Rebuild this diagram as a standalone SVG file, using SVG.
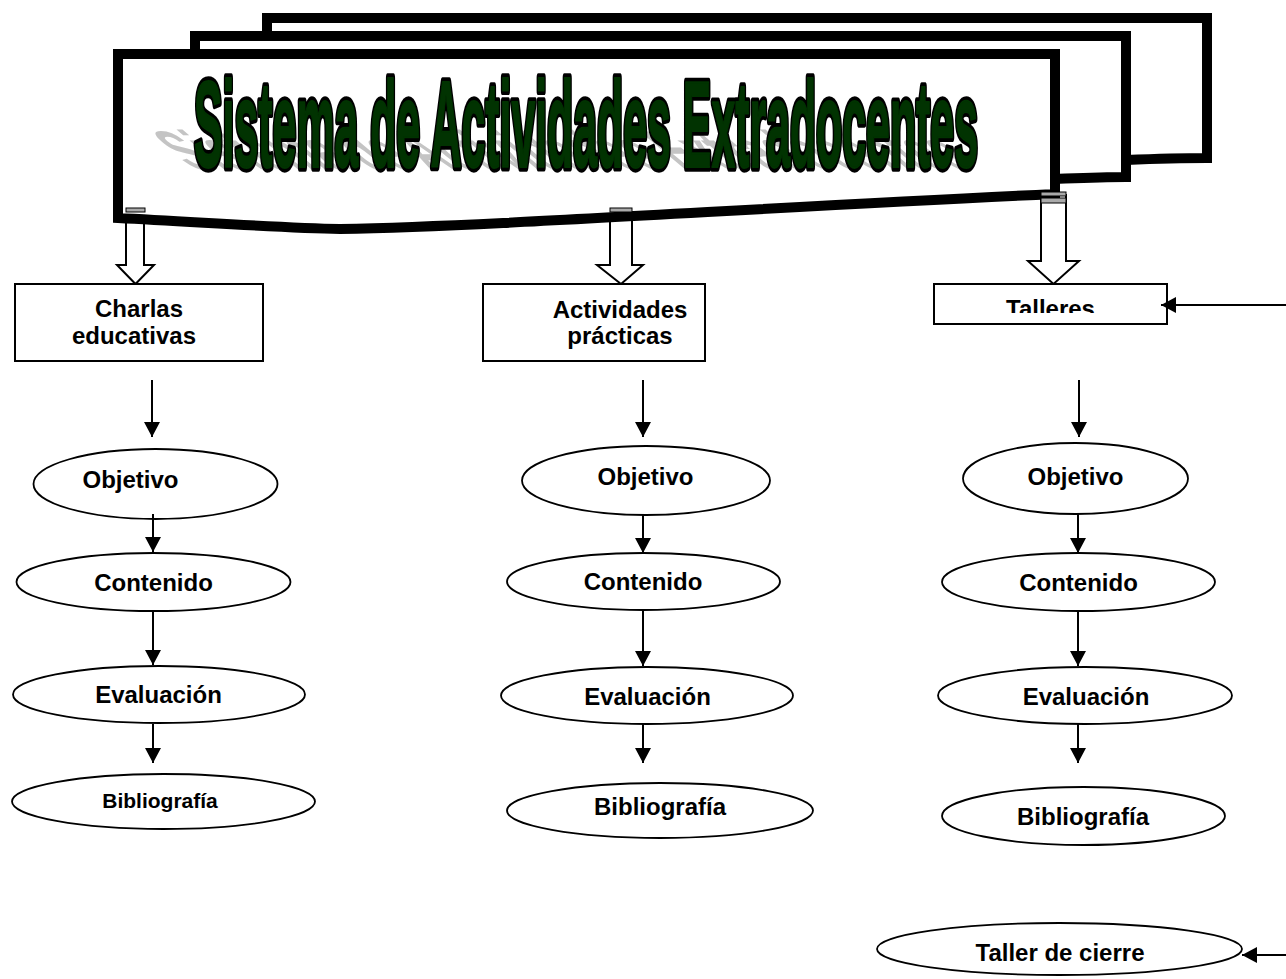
<svg xmlns="http://www.w3.org/2000/svg" width="1286" height="979" viewBox="0 0 1286 979">
<style>
.frame{fill:#fff;stroke:#000;stroke-width:10;stroke-linejoin:miter}
.box{fill:#fff;stroke:#000;stroke-width:2}
.ell{fill:#fff;stroke:#000;stroke-width:1.8}
.lbl{font-family:"Liberation Sans",Arial,sans-serif;font-weight:bold;font-size:24px;fill:#000;text-anchor:middle}
.blk{fill:#fff;stroke:#000;stroke-width:2;stroke-linejoin:miter}
.cap{fill:#aaa;stroke:#000;stroke-width:1}
.conn{stroke:#000;stroke-width:2;fill:none;marker-end:url(#ah)}
.title{font-family:"Liberation Sans",Arial,sans-serif;font-weight:bold;font-size:43px;stroke-linejoin:round}
</style>
<defs>
<marker id="ah" markerUnits="userSpaceOnUse" markerWidth="16" markerHeight="16" refX="15" refY="8" orient="auto">
<path d="M0,0 L15,8 L0,16 Z" fill="#000"/>
</marker>
<clipPath id="clipT"><rect x="936" y="286" width="229" height="27"/></clipPath>
</defs>

<g id="banner">
<path class="frame" d="M267,18 H1207 V158 C1180,158 1150,159 1126,160 L267,170 Z"/>
<path class="frame" d="M195,36 H1126 V177 C1100,177 1080,178 1055,179 L195,190 Z"/>
</g>

<g id="block-arrows">
<path class="blk" d="M126,200 V265 H117 L135.5,284 L154,265 H144 V200 Z"/>
<path class="blk" d="M610,200 V265 H597 L621,284 L643,265 H632 V200 Z"/>
<path class="blk" d="M1041,195 V261 H1028 L1053.5,284 L1079,261 H1066 V195 Z"/>
</g>

<g id="title">
<path class="frame" d="M118,54 H1055 V194 C750,208 500,226 340,229 C280,228 200,222 118,218 Z"/>
<g transform="translate(193,170) skewX(50) scale(1,1.3)">
<text class="title" x="0" y="0" textLength="786" lengthAdjust="spacingAndGlyphs" fill="#c4c4c4">Sistema de Actividades Extradocentes</text>
</g>
<g transform="translate(194,167) scale(1,2.85)">
<text class="title" x="0" y="0" textLength="784" lengthAdjust="spacingAndGlyphs" fill="#000" stroke="#000" stroke-width="7" vector-effect="non-scaling-stroke">Sistema de Actividades Extradocentes</text>
<text class="title" x="0" y="0" textLength="784" lengthAdjust="spacingAndGlyphs" fill="#013301" stroke="#013301" stroke-width="1.5" vector-effect="non-scaling-stroke">Sistema de Actividades Extradocentes</text>
</g>
<rect class="cap" x="126" y="208" width="19" height="4"/>
<rect class="cap" x="610" y="208" width="22" height="4"/>
<rect class="cap" x="1041" y="192" width="25" height="4"/>
<rect class="cap" x="1041" y="198" width="25" height="5"/>
</g>

<g id="charlas">
<rect class="box" x="15" y="284" width="248" height="77"/>
<text class="lbl" x="139" y="317">Charlas</text>
<text class="lbl" x="134" y="344">educativas</text>
</g>
<g id="actividades">
<rect class="box" x="483" y="284" width="222" height="77"/>
<text class="lbl" x="620" y="318">Actividades</text>
<text class="lbl" x="620" y="344">prácticas</text>
</g>
<g id="talleres">
<rect class="box" x="934" y="284" width="233" height="40"/>
<text class="lbl" x="1050.5" y="317" clip-path="url(#clipT)">Talleres</text>
</g>

<g id="c1-objetivo"><ellipse class="ell" cx="155.5" cy="484" rx="122" ry="35"/><text class="lbl" x="130.5" y="488">Objetivo</text></g>
<g id="c1-contenido"><ellipse class="ell" cx="153.5" cy="582" rx="137" ry="29"/><text class="lbl" x="153.5" y="591">Contenido</text></g>
<g id="c1-evaluacion"><ellipse class="ell" cx="159" cy="694.5" rx="146" ry="28.5"/><text class="lbl" x="158.5" y="703">Evaluación</text></g>
<g id="c1-bibliografia"><ellipse class="ell" cx="163.5" cy="801.5" rx="151.5" ry="27.5"/><text class="lbl" x="160" y="808" style="font-size:21px">Bibliografía</text></g>

<g id="c2-objetivo"><ellipse class="ell" cx="646" cy="480.5" rx="124" ry="34.5"/><text class="lbl" x="645.5" y="485">Objetivo</text></g>
<g id="c2-contenido"><ellipse class="ell" cx="643.5" cy="581.5" rx="136.5" ry="28.5"/><text class="lbl" x="643" y="590">Contenido</text></g>
<g id="c2-evaluacion"><ellipse class="ell" cx="647" cy="695.5" rx="146" ry="28.5"/><text class="lbl" x="647.5" y="705">Evaluación</text></g>
<g id="c2-bibliografia"><ellipse class="ell" cx="660" cy="810.5" rx="153" ry="27.5"/><text class="lbl" x="660" y="815">Bibliografía</text></g>

<g id="c3-objetivo"><ellipse class="ell" cx="1075.5" cy="478.5" rx="112.5" ry="35.5"/><text class="lbl" x="1075.5" y="485">Objetivo</text></g>
<g id="c3-contenido"><ellipse class="ell" cx="1078.5" cy="582" rx="136.5" ry="29"/><text class="lbl" x="1078.5" y="591">Contenido</text></g>
<g id="c3-evaluacion"><ellipse class="ell" cx="1085" cy="695.5" rx="147" ry="28.5"/><text class="lbl" x="1086" y="705">Evaluación</text></g>
<g id="c3-bibliografia"><ellipse class="ell" cx="1083.5" cy="816" rx="141.5" ry="29"/><text class="lbl" x="1083" y="825">Bibliografía</text></g>

<g id="taller-cierre"><ellipse class="ell" cx="1059.5" cy="949" rx="182.5" ry="26"/><text class="lbl" x="1060" y="961">Taller de cierre</text></g>

<g id="connectors">
<line class="conn" x1="152" y1="380" x2="152" y2="437"/>
<line class="conn" x1="153" y1="514" x2="153" y2="552"/>
<line class="conn" x1="153" y1="611" x2="153" y2="665"/>
<line class="conn" x1="153" y1="724" x2="153" y2="763"/>
<line class="conn" x1="643" y1="380" x2="643" y2="437"/>
<line class="conn" x1="643" y1="515" x2="643" y2="553"/>
<line class="conn" x1="643" y1="610" x2="643" y2="666"/>
<line class="conn" x1="643" y1="724" x2="643" y2="763"/>
<line class="conn" x1="1079" y1="380" x2="1079" y2="437"/>
<line class="conn" x1="1078" y1="514" x2="1078" y2="553"/>
<line class="conn" x1="1078" y1="611" x2="1078" y2="666"/>
<line class="conn" x1="1078" y1="724" x2="1078" y2="763"/>
<line class="conn" x1="1286" y1="305" x2="1161" y2="305"/>
<line class="conn" x1="1286" y1="955" x2="1242" y2="955"/>
</g>
</svg>
